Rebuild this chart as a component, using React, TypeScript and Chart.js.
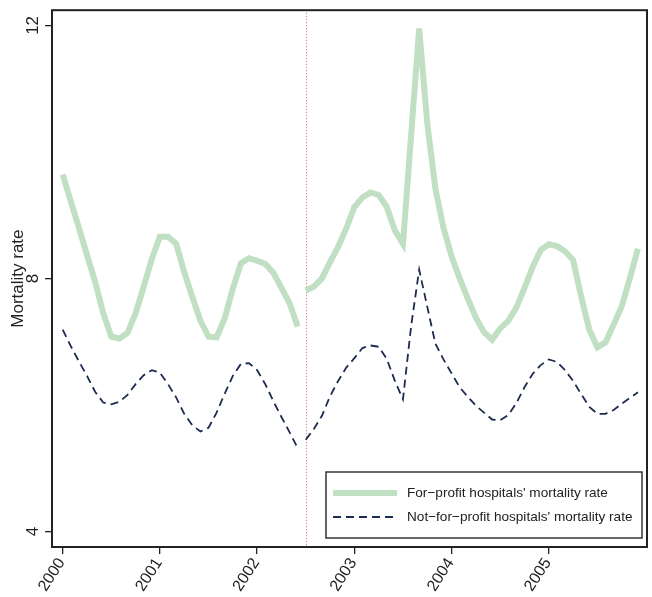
import React, { useEffect, useRef } from "react";
import { Chart, registerables } from "chart.js";

Chart.register(...registerables);

// ---- data ----
const startYear = 2000;
const breakAfterIndex = 29; // series are interrupted between June and July 2002
const policyYear = 2002.5;
const xTickYears = [2000, 2001, 2002, 2003, 2004, 2005];
const yTickValues = [4, 8, 12];
const xRange = [1999.89, 2006.01];
const yRange = [3.755, 12.24];

const seriesLabels = [
  "For\u2212profit hospitals' mortality rate",
  "Not\u2212for\u2212profit hospitals' mortality rate",
];
const yTitle = "Mortality rate";

// monthly values, Jan 2000 .. Dec 2005
const forProfit = [
  9.64, 9.22, 8.8, 8.37, 7.95, 7.45, 7.08, 7.05, 7.14, 7.45, 7.87, 8.31,
  8.66, 8.66, 8.55, 8.1, 7.71, 7.33, 7.08, 7.07, 7.37, 7.84, 8.24, 8.32,
  8.28, 8.23, 8.09, 7.85, 7.61, 7.24, 7.81, 7.87, 8.0, 8.26, 8.5, 8.79,
  9.13, 9.28, 9.36, 9.32, 9.13, 8.76, 8.55, 10.25, 11.95, 10.45, 9.42, 8.8,
  8.35, 8.0, 7.68, 7.38, 7.15, 7.03, 7.21, 7.33, 7.54, 7.85, 8.18, 8.45,
  8.54, 8.51, 8.43, 8.29, 7.71, 7.19, 6.91, 6.99, 7.27, 7.56, 8.0, 8.47,
];
const notForProfit = [
  7.19, 6.93, 6.69, 6.46, 6.21, 6.04, 6.01, 6.05, 6.16, 6.33, 6.47, 6.55,
  6.51, 6.33, 6.12, 5.86, 5.68, 5.58, 5.64, 5.88, 6.18, 6.46, 6.65, 6.66,
  6.55, 6.33, 6.06, 5.81, 5.57, 5.32, 5.45, 5.62, 5.83, 6.14, 6.38, 6.59,
  6.74, 6.9, 6.94, 6.92, 6.73, 6.38, 6.09, 7.24, 8.14, 7.55, 6.97, 6.72,
  6.5, 6.28, 6.13, 5.99, 5.88, 5.77, 5.76, 5.84, 6.03, 6.28, 6.49, 6.63,
  6.72, 6.68, 6.55, 6.38, 6.17, 5.97, 5.86, 5.86, 5.92, 6.02, 6.11, 6.2,
];

// ---- styles ----
const GREEN = "#c0dfc3";
const NAVY = "#1c2b50";
const INK = "#222222";
const FONT = '"Liberation Sans", Arial, Helvetica, sans-serif';

const decorPlugin = {
  id: "decor",
  beforeDatasetsDraw(chart: any) {
    const { ctx, chartArea: a, scales } = chart;
    const x = Math.round(scales.x.getPixelForValue(policyYear)) + 0.5;
    ctx.save();
    ctx.strokeStyle = "#e0607e";
    ctx.lineWidth = 1;
    ctx.setLineDash([1, 2]);
    ctx.beginPath();
    ctx.moveTo(x, a.top);
    ctx.lineTo(x, a.bottom);
    ctx.stroke();
    ctx.restore();
  },
  afterDraw(chart: any) {
    const { ctx, chartArea: a, scales } = chart;
    ctx.save();
    // plot box
    ctx.strokeStyle = INK;
    ctx.lineWidth = 2;
    ctx.strokeRect(a.left, a.top, a.right - a.left, a.bottom - a.top);

    ctx.fillStyle = INK;
    // y tick labels (rotated)
    ctx.font = `17px ${FONT}`;
    ctx.textAlign = "center";
    ctx.textBaseline = "middle";
    for (const t of scales.y.ticks) {
      const y = scales.y.getPixelForValue(t.value);
      ctx.save();
      ctx.translate(a.left - 19, y);
      ctx.rotate(-Math.PI / 2);
      ctx.fillText(String(t.label), 0, 0);
      ctx.restore();
    }
    // y title
    ctx.save();
    ctx.font = `17px ${FONT}`;
    ctx.translate(a.left - 34, (a.top + a.bottom) / 2);
    ctx.rotate(-Math.PI / 2);
    ctx.fillText(yTitle, 0, 0);
    ctx.restore();

    // x tick labels (rotated)
    ctx.font = `16px ${FONT}`;
    ctx.textAlign = "right";
    ctx.textBaseline = "middle";
    for (const t of scales.x.ticks) {
      const x = scales.x.getPixelForValue(t.value);
      ctx.save();
      ctx.translate(x - 1, a.bottom + 13);
      ctx.rotate((-57 * Math.PI) / 180);
      ctx.fillText(String(t.label), 0, 0);
      ctx.restore();
    }

    // legend
    const bw = 316;
    const bh = 66;
    const bx = a.right - 5 - bw;
    const by = a.bottom - 9 - bh;
    ctx.fillStyle = "#ffffff";
    ctx.fillRect(bx, by, bw, bh);
    ctx.strokeStyle = "#333333";
    ctx.lineWidth = 1.5;
    ctx.strokeRect(bx, by, bw, bh);
    ctx.font = `13.6px ${FONT}`;
    ctx.textAlign = "left";
    ctx.textBaseline = "middle";
    chart.data.datasets.forEach((ds: any, i: number) => {
      const ry = by + 21 + i * 24;
      ctx.save();
      ctx.strokeStyle = ds.borderColor;
      ctx.lineWidth = ds.borderWidth;
      ctx.setLineDash(ds.borderDash || []);
      ctx.beginPath();
      ctx.moveTo(bx + 7, ry);
      ctx.lineTo(bx + 71, ry);
      ctx.stroke();
      ctx.restore();
      ctx.fillStyle = INK;
      ctx.fillText(ds.label, bx + 81, ry);
    });
    ctx.restore();
  },
};

export default function App() {
  const ref = useRef<HTMLCanvasElement>(null);

  useEffect(() => {
    const canvas = ref.current;
    if (!canvas) return;
    const xs = forProfit.map((_, i) => startYear + i / 12);
    const gapSegment = (color: string) => ({
      borderColor: (c: any) =>
        c.p0DataIndex === breakAfterIndex ? "rgba(0,0,0,0)" : color,
    });
    const chart = new Chart(canvas, {
      type: "line",
      data: {
        datasets: [
          {
            label: seriesLabels[0],
            data: forProfit.map((v, i) => ({ x: xs[i], y: v })),
            borderColor: GREEN,
            borderWidth: 6,
            pointRadius: 0,
            tension: 0,
            segment: gapSegment(GREEN),
          },
          {
            label: seriesLabels[1],
            data: notForProfit.map((v, i) => ({ x: xs[i], y: v })),
            borderColor: NAVY,
            borderWidth: 1.8,
            borderDash: [8, 5],
            pointRadius: 0,
            tension: 0,
            segment: gapSegment(NAVY),
          },
        ],
      },
      options: {
        responsive: false,
        animation: false,
        events: [],
        layout: { padding: { top: 7, right: 5, left: 0, bottom: 0 } },
        plugins: {
          legend: { display: false },
          tooltip: { enabled: false },
        },
        scales: {
          x: {
            type: "linear",
            min: xRange[0],
            max: xRange[1],
            afterBuildTicks: (s: any) => {
              s.ticks = xTickYears.map((v) => ({ value: v }));
            },
            afterFit: (s: any) => {
              s.height = 50;
            },
            ticks: {
              color: "rgba(0,0,0,0)",
              autoSkip: false,
              maxRotation: 0,
              callback: (v: any) => String(v),
            },
            grid: {
              drawOnChartArea: false,
              drawTicks: true,
              tickLength: 7,
              color: INK,
              lineWidth: 1.3,
            },
            border: { display: false },
          },
          y: {
            type: "linear",
            min: yRange[0],
            max: yRange[1],
            afterBuildTicks: (s: any) => {
              s.ticks = yTickValues.map((v) => ({ value: v }));
            },
            afterFit: (s: any) => {
              s.width = 52;
            },
            ticks: {
              color: "rgba(0,0,0,0)",
              callback: (v: any) => String(v),
            },
            grid: {
              drawOnChartArea: false,
              drawTicks: true,
              tickLength: 7,
              color: INK,
              lineWidth: 1.3,
            },
            border: { display: false },
          },
        },
      },
      plugins: [decorPlugin],
    } as any);
    return () => chart.destroy();
  }, []);

  return (
    <div style={{ position: "absolute", left: 0, top: 0, width: 652, height: 597, background: "#fff" }}>
      <canvas ref={ref} width={652} height={597} style={{ display: "block" }} />
    </div>
  );
}
